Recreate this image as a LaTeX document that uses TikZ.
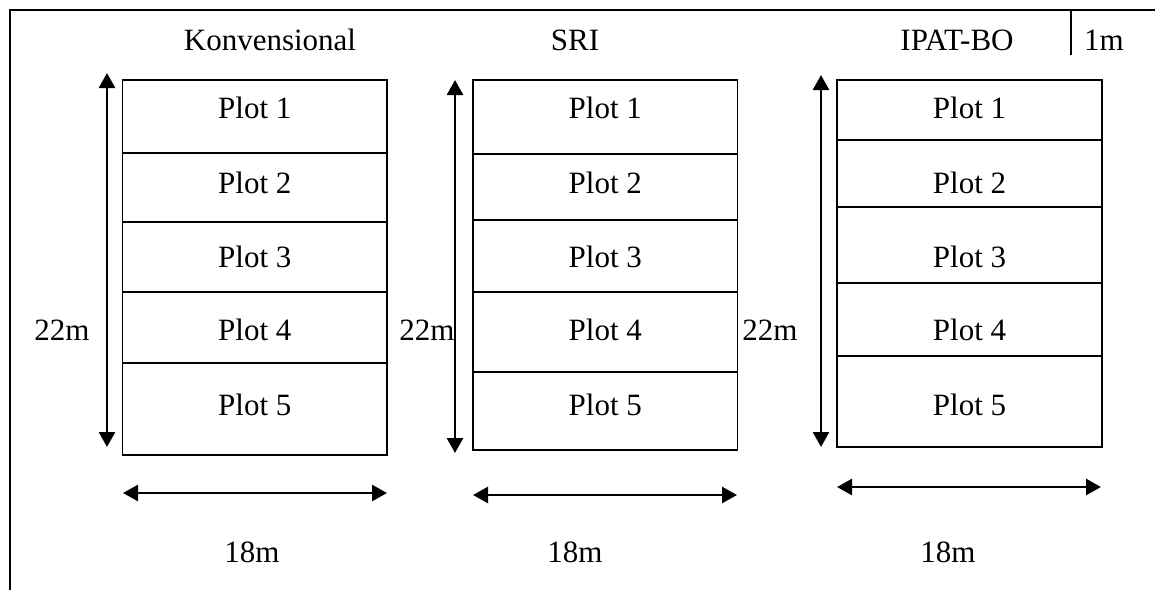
\documentclass[tikz,border=0pt]{standalone}
\usepackage{fontspec}
\setmainfont{Liberation Serif}
\usetikzlibrary{arrows.meta}
\begin{document}
\begin{tikzpicture}[x=1pt,y=-1pt,
  plotbox/.style={draw, line width=1.6pt, inner sep=0pt, minimum width=264.5pt},
  lbl/.style={inner sep=0pt, font=\fontsize{31}{37}\selectfont},
  dim/.style={line width=2.6pt, {Triangle[length=15pt,width=16pt]}-{Triangle[length=15pt,width=16pt]}}]
\useasboundingbox (0,0) rectangle (1155,590);
% outer frame (open to the right and bottom)
\draw[line width=1.6pt] (1155,10) -- (10,10) -- (10,590);
% column headings
\node[lbl] (hK) at (270,40) {Konvensional};
\node[lbl] (hS) at (575,40) {SRI};
\node[lbl] (hI) at (957,40) {IPAT-BO};
\node[lbl] (hM) at (1104,40) {1m};
\coordinate (sepT) at (1071,10);
\coordinate (sepB) at (1071,55);
\draw[line width=1.6pt] (sepT) -- (sepB);

% Konvensional plots
\node[plotbox, minimum height=73pt]  (k1) at (254.75,116.5) {};
\node[plotbox, minimum height=69pt]  (k2) at (254.75,187.5) {};
\node[plotbox, minimum height=70pt]  (k3) at (254.75,257) {};
\node[plotbox, minimum height=71pt]  (k4) at (254.75,327.5) {};
\node[plotbox, minimum height=92pt]  (k5) at (254.75,409) {};
\node[lbl] at (254.75,108) {Plot 1};
\node[lbl] at (254.75,183) {Plot 2};
\node[lbl] at (254.75,257) {Plot 3};
\node[lbl] at (254.75,330) {Plot 4};
\node[lbl] at (254.75,405) {Plot 5};

% SRI plots
\node[plotbox, minimum height=74pt]  (s1) at (605.25,117) {};
\node[plotbox, minimum height=66pt]  (s2) at (605.25,187) {};
\node[plotbox, minimum height=72pt]  (s3) at (605.25,256) {};
\node[plotbox, minimum height=80pt]  (s4) at (605.25,332) {};
\node[plotbox, minimum height=78pt]  (s5) at (605.25,411) {};
\node[lbl] at (605.25,108) {Plot 1};
\node[lbl] at (605.25,183) {Plot 2};
\node[lbl] at (605.25,257) {Plot 3};
\node[lbl] at (605.25,330) {Plot 4};
\node[lbl] at (605.25,405) {Plot 5};

% IPAT-BO plots
\node[plotbox, minimum height=60pt]  (i1) at (969.5,110) {};
\node[plotbox, minimum height=67pt]  (i2) at (969.5,173.5) {};
\node[plotbox, minimum height=76pt]  (i3) at (969.5,245) {};
\node[plotbox, minimum height=73pt]  (i4) at (969.5,319.5) {};
\node[plotbox, minimum height=91pt]  (i5) at (969.5,401.5) {};
\node[lbl] at (969.5,108) {Plot 1};
\node[lbl] at (969.5,183) {Plot 2};
\node[lbl] at (969.5,257) {Plot 3};
\node[lbl] at (969.5,330) {Plot 4};
\node[lbl] at (969.5,405) {Plot 5};

% length dimensions (22m)
\coordinate (kvT) at (107,73);  \coordinate (kvB) at (107,447);
\coordinate (svT) at (455,80);  \coordinate (svB) at (455,453);
\coordinate (ivT) at (821,75);  \coordinate (ivB) at (821,447);
\draw[dim] (kvT) -- (kvB);
\draw[dim] (svT) -- (svB);
\draw[dim] (ivT) -- (ivB);
\node[lbl] (kL) at (62,330) {22m};
\node[lbl] (sL) at (427,330) {22m};
\node[lbl] (iL) at (770,330) {22m};

% width dimensions (18m)
\coordinate (khL) at (123,493); \coordinate (khR) at (387,493);
\coordinate (shL) at (473,495); \coordinate (shR) at (737,495);
\coordinate (ihL) at (837,487); \coordinate (ihR) at (1101,487);
\draw[dim] (khL) -- (khR);
\draw[dim] (shL) -- (shR);
\draw[dim] (ihL) -- (ihR);
\node[lbl] (kW) at (252,552) {18m};
\node[lbl] (sW) at (575,552) {18m};
\node[lbl] (iW) at (948,552) {18m};
\end{tikzpicture}
\end{document}
